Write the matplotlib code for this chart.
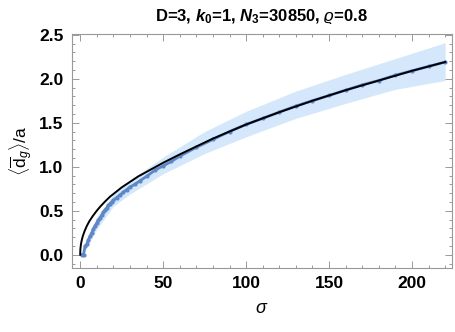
import matplotlib
matplotlib.use("Agg")
import matplotlib.pyplot as plt
from matplotlib.ticker import MultipleLocator

plt.rcParams['font.family'] = ['Liberation Sans', 'DejaVu Sans']
plt.rcParams['mathtext.fontset'] = 'custom'
plt.rcParams['mathtext.rm'] = 'Liberation Sans'
plt.rcParams['mathtext.it'] = 'Liberation Sans:italic'
plt.rcParams['mathtext.bf'] = 'Liberation Sans:bold'
plt.rcParams['mathtext.bfit'] = 'Liberation Sans:bold:italic'

# measured points (blue dots)
sigma_pts = [1, 2, 3, 4, 5, 6, 7, 8, 9, 10, 11, 12, 13, 14, 15, 16, 17, 18, 19, 20,
             22, 24, 26, 28, 30, 33, 36, 40, 45, 50, 55, 60, 70, 80, 90, 100,
             110, 120, 130, 140, 150, 160, 170, 180, 190, 200, 210, 220]
dg_pts = [0.0, 0.0, 0.10, 0.12, 0.17, 0.21, 0.25, 0.29, 0.33, 0.36, 0.39, 0.42, 0.45, 0.48, 0.51, 0.53, 0.56, 0.58, 0.60, 0.62,
          0.65, 0.68, 0.71, 0.74, 0.77, 0.80, 0.84, 0.89, 0.96, 1.01, 1.06, 1.12, 1.22, 1.31, 1.40, 1.48,
          1.55, 1.62, 1.69, 1.75, 1.81, 1.87, 1.93, 1.98, 2.04, 2.09, 2.14, 2.19]

# spread band
sigma_band = [1, 5, 10, 20, 30, 50, 75, 100, 130, 160, 190, 220]
band_hi = [0.04, 0.23, 0.43, 0.69, 0.85, 1.11, 1.40, 1.63, 1.86, 2.05, 2.23, 2.41]
band_lo = [0.0, 0.11, 0.29, 0.55, 0.69, 0.92, 1.15, 1.34, 1.55, 1.72, 1.88, 1.98]

# fit curve (black)
sigma_fit = [0, 0.1, 0.3, 0.6, 1.0, 1.5, 2.6, 4, 5.5, 7.6, 10, 12, 15, 18, 25, 35, 50, 60, 80,
             100, 120, 140, 160, 180, 200, 220]
dg_fit = [0.0, 0.057, 0.096, 0.133, 0.17, 0.206, 0.266, 0.327, 0.38, 0.44, 0.50, 0.545, 0.605, 0.66, 0.765, 0.89, 1.045, 1.14, 1.32,
          1.48, 1.62, 1.75, 1.87, 1.98, 2.09, 2.19]

fig = plt.figure(figsize=(4.55, 3.32), dpi=100)
ax = fig.add_axes([0.158, 0.193, 0.835, 0.705])

ax.fill_between(sigma_band, band_lo, band_hi, color='#d5e8fb', lw=0, zorder=1)
ax.plot(sigma_pts, dg_pts, color='#5d87c6', lw=2.0, marker='o', ms=3, mew=0, zorder=2)
ax.plot(sigma_fit, dg_fit, color='black', lw=1.4, zorder=3)

ax.set_xlim(-5, 224)
ax.set_ylim(-0.15, 2.51)
ax.xaxis.set_major_locator(MultipleLocator(50))
ax.xaxis.set_minor_locator(MultipleLocator(10))
ax.yaxis.set_major_locator(MultipleLocator(0.5))
ax.yaxis.set_minor_locator(MultipleLocator(0.1))
ax.yaxis.set_major_formatter(plt.FuncFormatter(lambda v, p: '%.1f' % v))

for s in ax.spines.values():
    s.set_color('#999999')
    s.set_linewidth(0.8)
ax.tick_params(which='both', direction='in', top=True, right=True, color='#999999', width=0.7)
ax.tick_params(which='major', length=5, labelsize=12.5, pad=6)
ax.tick_params(which='minor', length=2.5)
for lab in ax.get_xticklabels() + ax.get_yticklabels():
    lab.set_fontweight('bold')

ax.set_title(r'D=3, $\mathbfit{k}_\mathbf{0}$=1, $\mathbfit{N}_\mathbf{3}$=30850, $\varrho$=0.8',
             fontsize=12, fontweight='bold', pad=9)
ax.set_xlabel(r'$\sigma$', fontsize=13, labelpad=6)
ax.set_ylabel(r'$\langle\overline{\mathrm{d}}_{g}\rangle$/a', fontsize=12.5, labelpad=3)

fig.savefig('out.png', dpi=100)
